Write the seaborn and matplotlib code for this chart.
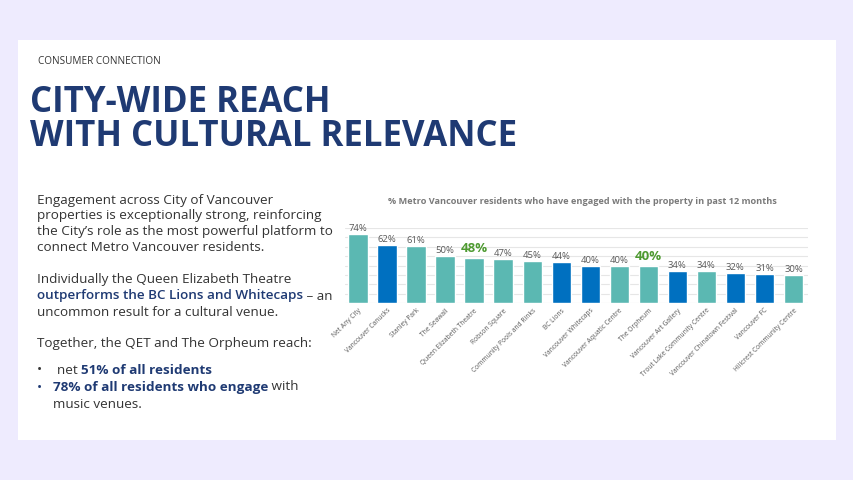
import matplotlib
matplotlib.use('Agg')
import matplotlib.pyplot as plt
import seaborn as sns
from matplotlib.patches import Rectangle

# Data
places = ['Net Any City', 'Vancouver Canucks', 'Stanley Park', 'The Seawall',
          'Queen Elizabeth Theatre', 'Robson Square', 'Community Pools and Rinks',
          'BC Lions', 'Vancouver Whitecaps', 'Vancouver Aquatic Centre', 'The Orpheum',
          'Vancouver Art Gallery', 'Trout Lake Community Centre',
          'Vancouver Chinatown Festival', 'Vancouver FC', 'Hillcrest Community Centre']
reach = [74, 62, 61, 50, 48, 47, 45, 44, 40, 40, 40, 34, 34, 32, 31, 30]
bar_group = ['teal', 'blue', 'teal', 'teal', 'teal', 'teal', 'teal', 'blue',
             'blue', 'teal', 'teal', 'blue', 'teal', 'blue', 'blue', 'teal']
featured = ['Queen Elizabeth Theatre', 'The Orpheum']

W, H = 854, 480
BG = '#EEEBFE'
NAVY = '#1F3A73'
DARK = '#333333'
GREEN = '#4E9A31'

sns.set_style('white')
plt.rcParams['font.family'] = ['Open Sans', 'DejaVu Sans']

fig = plt.figure(figsize=(W / 100, H / 100), dpi=100, facecolor=BG)
fig.patches.append(Rectangle((18 / W, 1 - 440 / H), 818 / W, 400 / H,
                             transform=fig.transFigure, facecolor='white',
                             edgecolor='none', zorder=-5))

def fx(px):
    return px / W

def fy(py):
    return 1 - py / H

# Header
fig.text(fx(38), fy(61), 'CONSUMER CONNECTION', fontsize=7.2, color=DARK,
         va='center', ha='left', weight='medium')
fig.text(fx(30), fy(120), 'CITY-WIDE REACH\nWITH CULTURAL RELEVANCE', fontsize=25,
         color=NAVY, weight='bold', va='center', ha='left', linespacing=0.93)

# Body text with mixed colours
renderer = fig.canvas.get_renderer()
BODY = 9.7

def text_line(x_px, y_px, segments):
    x = x_px
    for s, color, weight in segments:
        t = fig.text(fx(x), fy(y_px), s, fontsize=BODY, color=color,
                     weight=weight, va='center', ha='left')
        x += t.get_window_extent(renderer).width

para1 = ['Engagement across City of Vancouver',
         'properties is exceptionally strong, reinforcing',
         'the City\u2019s role as the most powerful platform to',
         'connect Metro Vancouver residents.']
for i, line in enumerate(para1):
    text_line(37, 200 + i * 15.7, [(line, DARK, 'normal')])

text_line(37, 280, [('Individually the Queen Elizabeth Theatre', DARK, 'normal')])
text_line(37, 296, [('outperforms the BC Lions and Whitecaps', NAVY, 'semibold'),
                    (' \u2013 an', DARK, 'normal')])
text_line(37, 312, [('uncommon result for a cultural venue.', DARK, 'normal')])
text_line(37, 343, [('Together, the QET and The Orpheum reach:', DARK, 'normal')])

fig.text(fx(37), fy(370), '\u2022', fontsize=BODY, color=DARK, va='center')
text_line(57, 370, [('net ', DARK, 'normal'), ('51% of all residents', NAVY, 'bold')])
fig.text(fx(37), fy(387), '\u2022', fontsize=BODY, color=NAVY, va='center')
text_line(53, 387, [('78% of all residents who engage', NAVY, 'bold'),
                    (' with', DARK, 'normal')])
text_line(53, 404, [('music venues.', DARK, 'normal')])

# Chart
ax = fig.add_axes([fx(345), fy(303), fx(808) - fx(345), fy(228) - fy(303)])
ax.set_facecolor('none')
sns.barplot(x=places, y=reach, hue=bar_group, dodge=False, legend=False,
            palette={'teal': '#5BB8B2', 'blue': '#0070C0'}, width=0.67,
            saturation=1, ax=ax, zorder=3)
ax.set_ylim(0, 80)
ax.set_xlim(-0.45, len(places) - 0.5)
ax.set_yticks(range(10, 81, 10))
ax.yaxis.grid(True, color='#E6E6E6', linewidth=0.8, zorder=0)
ax.set_yticklabels([])
ax.tick_params(axis='both', length=0)
ax.tick_params(axis='x', pad=3)
for sp in ax.spines.values():
    sp.set_visible(False)
ax.axhline(0, color='#D9D9D9', linewidth=0.8, zorder=2)
ax.set_xticks(range(len(places)))
ax.set_xticklabels(places, rotation=45, ha='right', rotation_mode='anchor',
                   fontsize=4.8, color='#595959')
ax.set_xlabel('')
ax.set_ylabel('')

for i, (name, v) in enumerate(zip(places, reach)):
    if name in featured:
        ax.annotate(f'{v}%', (i, v), xytext=(0, 2), textcoords='offset points',
                    ha='center', va='bottom', fontsize=9.5, weight='bold',
                    color=GREEN, annotation_clip=False)
    else:
        ax.annotate(f'{v}%', (i, v), xytext=(0, 0.5), textcoords='offset points',
                    ha='center', va='bottom', fontsize=6.8, color='#595959',
                    annotation_clip=False)

fig.text(fx(582), fy(201),
         '% Metro Vancouver residents who have engaged with the property in past 12 months',
         fontsize=6.6, weight='bold', color='#7A7A7A', ha='center', va='center')

fig.savefig('out.png', dpi=100, facecolor=BG)
